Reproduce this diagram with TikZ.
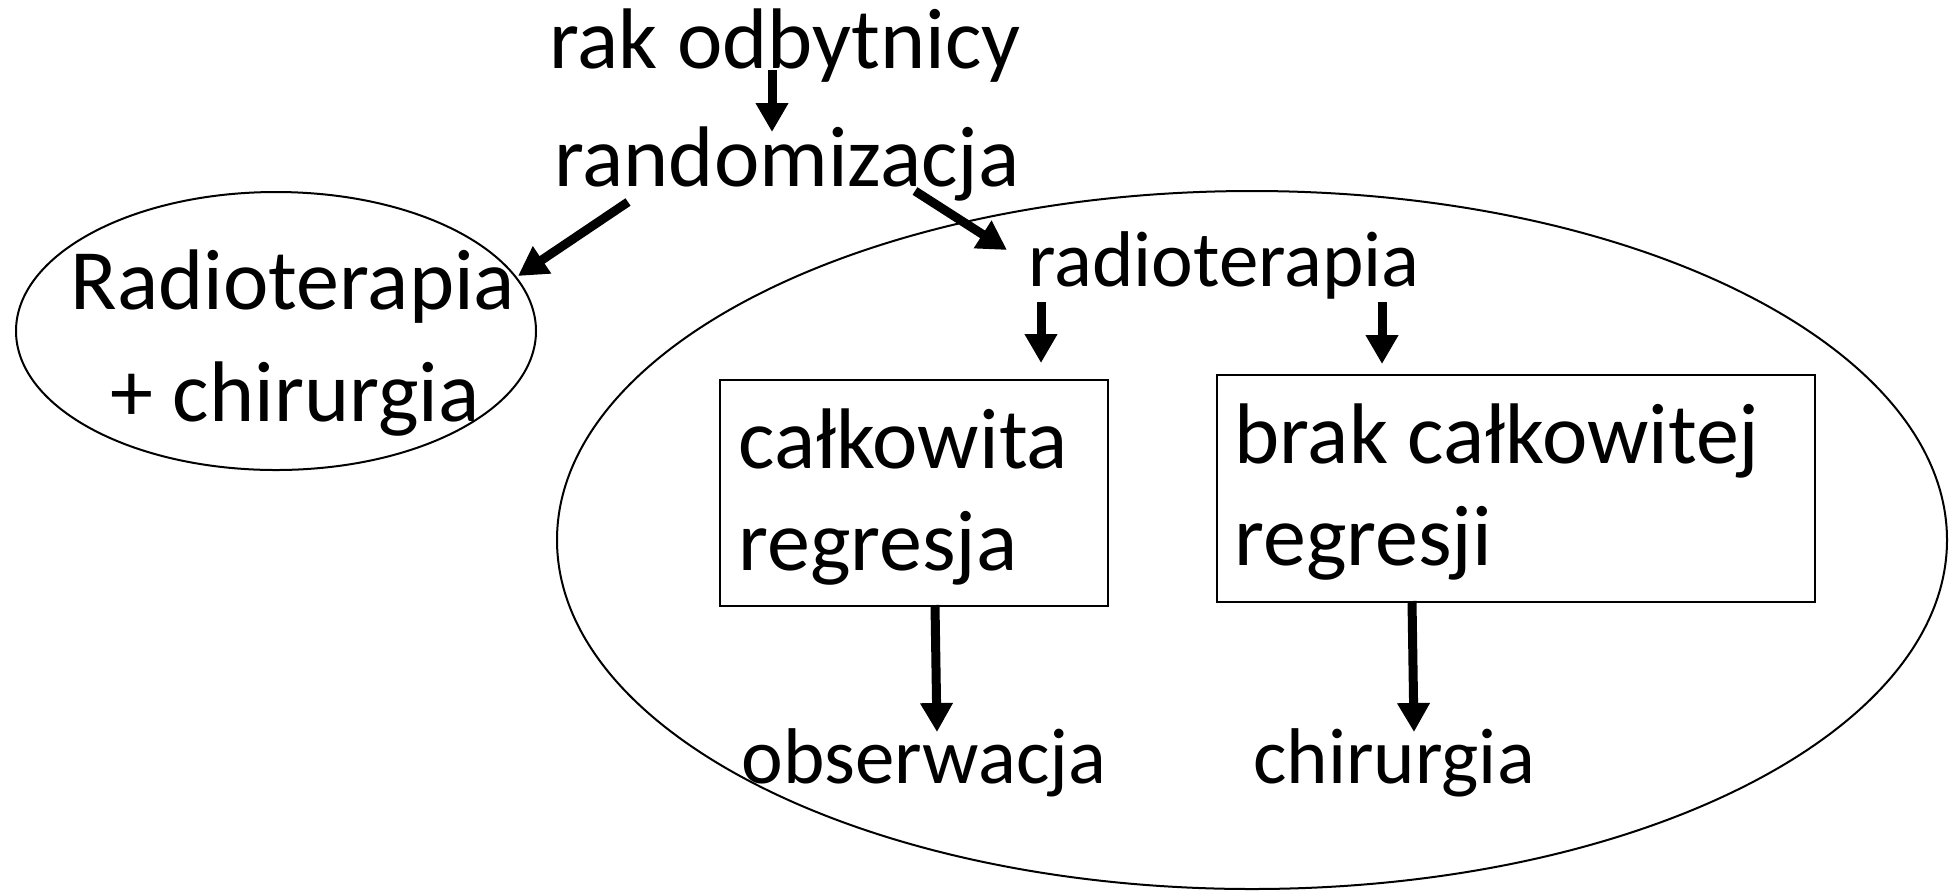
\documentclass[tikz,border=0pt]{standalone}
\usepackage{fontspec}
\setmainfont{Carlito}
\usetikzlibrary{arrows.meta,shapes.geometric}
\begin{document}
\begin{tikzpicture}[x=0.5pt,y=-0.5pt,
  big/.style={font=\fontsize{43}{51}\selectfont, inner sep=0pt, anchor=base},
  bigleft/.style={big, anchor=base west},
  small/.style={font=\fontsize{39.5}{47}\selectfont, inner sep=0pt, anchor=base},
  oval/.style={draw, ellipse, line width=1pt, inner sep=0pt},
  frame/.style={draw, rectangle, line width=1pt, inner sep=0pt, anchor=north west},
  arr/.style={line width=4.5pt, -{Triangle[width=15.5pt,length=14.5pt]}}]
\useasboundingbox (0,0) rectangle (1959,891);

% groups
\node[oval, minimum width=260pt, minimum height=139pt] (armA) at (276,331) {};
\node[oval, minimum width=695pt, minimum height=349pt] (armB) at (1252,540) {};

% top of the scheme
\node[big] (rak) at (785,68) {rak odbytnicy};
\node[big] (rand) at (787,186) {randomizacja};

% arm A
\node[big] (rtA) at (293,309) {Radioterapia};
\node[big] (chA) at (295,421) {+ chirurgia};

% arm B
\node[small] (rtB) at (1224,286) {radioterapia};
\node[frame, minimum width=194pt, minimum height=113pt] (cr) at (719,379) {};
\node[frame, minimum width=299pt, minimum height=113.5pt] (ncr) at (1216,374) {};
\node[bigleft] (cr1) at (738,468) {całkowita};
\node[bigleft] (cr2) at (738,570) {regresja};
\node[bigleft] (ncr1) at (1234,463) {brak całkowitej};
\node[bigleft] (ncr2) at (1234,565) {regresji};
\node[small] (obs) at (924,783) {obserwacja};
\node[small] (sur) at (1394,783) {chirurgia};

% arrow ends
\coordinate (rakS) at (772,70);
\coordinate (randN) at (772,132);
\coordinate (randL) at (628,202);
\coordinate (armAE) at (518,276);
\coordinate (randR) at (915,191);
\coordinate (rtBW) at (1007,250);
\coordinate (rtBL) at (1041,302);
\coordinate (crN) at (1041,363);
\coordinate (rtBR) at (1382,302);
\coordinate (ncrN) at (1382,364);
\coordinate (crS) at (935,605);
\coordinate (obsN) at (937,732);
\coordinate (ncrS) at (1412,601);
\coordinate (surN) at (1414,732);

\draw[arr] (rakS) -- (randN);
\draw[arr] (randL) -- (armAE);
\draw[arr] (randR) -- (rtBW);
\draw[arr] (rtBL) -- (crN);
\draw[arr] (rtBR) -- (ncrN);
\draw[arr] (crS) -- (obsN);
\draw[arr] (ncrS) -- (surN);
\end{tikzpicture}
\end{document}
